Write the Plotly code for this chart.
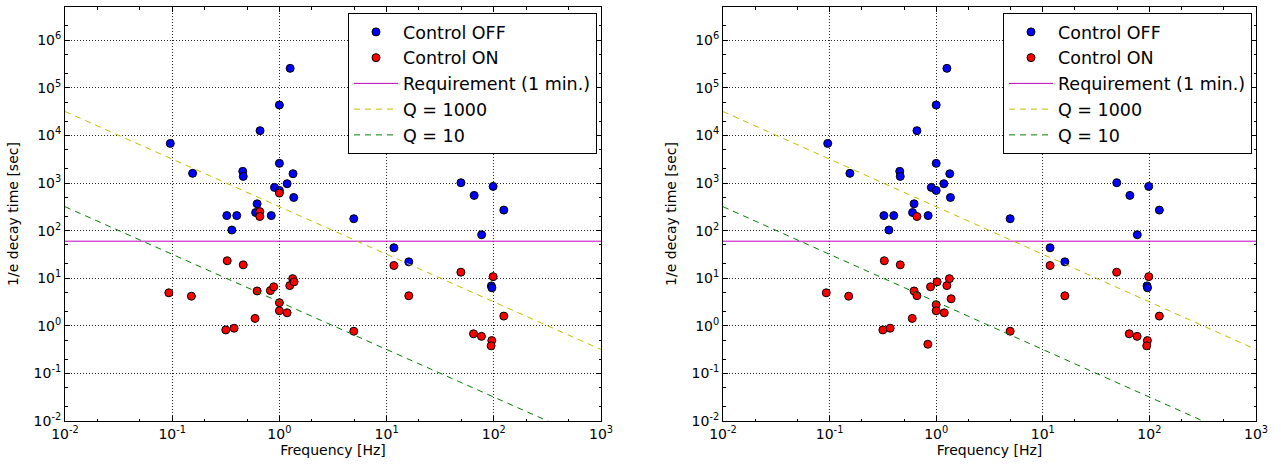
import plotly.graph_objects as go

# ---------------- data ----------------
freq_off = [0.096, 0.155, 0.323, 0.40, 0.36, 0.455, 0.46, 0.62, 0.60, 0.66,
            0.84, 0.90, 1.0, 1.0, 1.0, 1.26, 1.18, 1.34, 1.36, 4.94,
            11.7, 16.1, 49.4, 65.6, 98.5, 124, 77, 95, 96]
tau_off = [6800, 1600, 207, 207, 103, 1760, 1380, 366, 240, 12600,
           207, 810, 700, 2590, 43600, 257000, 968, 1570, 497, 178,
           43.6, 22.1, 1015, 550, 850, 270, 82, 6.9, 6.3]

# Control ON, left panel
freq_on_a = [0.093, 0.151, 0.326, 0.46, 0.316, 0.378, 0.593, 0.62, 0.656, 0.656,
             0.824, 0.885, 1.0, 1.0, 1.0, 1.18, 1.25, 1.33, 1.37, 4.94,
             11.7, 16.1, 49.3, 98.6, 124, 64.7, 76.7, 95.8, 94.4]
tau_on_a = [4.94, 4.2, 23.3, 19.1, 0.82, 0.89, 1.43, 5.4, 251, 198,
            5.5, 6.6, 615, 3.06, 2.07, 1.88, 7.0, 9.8, 8.4, 0.77,
            18.5, 4.27, 13.4, 10.8, 1.6, 0.68, 0.6, 0.49, 0.38]

# Control ON, right panel
freq_on_b = [0.093, 0.151, 0.326, 0.46, 0.316, 0.37, 0.596, 0.62, 0.66, 0.66,
             0.835, 0.885, 1.02, 1.0, 1.0, 1.19, 1.26, 1.33, 1.38, 4.94,
             11.7, 16.1, 49.3, 98.6, 124, 64.7, 76.7, 95.8, 94.4]
tau_on_b = [4.94, 4.2, 23.3, 19.1, 0.82, 0.89, 1.43, 5.4, 4.3, 198,
            0.41, 6.6, 8.4, 2.78, 2.07, 1.88, 7.0, 9.8, 3.7, 0.77,
            18.5, 4.27, 13.4, 10.8, 1.6, 0.68, 0.6, 0.49, 0.38]

# reference lines (end points)
line_freq = [0.01, 1000]
req_tau = [60, 60]
q1000_tau = [31831, 0.3183]
q10_tau = [318.31, 0.003183]

x_ticks = [0.01, 0.1, 1, 10, 100, 1000]
x_ticktext = ["10<sup>-2</sup>", "10<sup>-1</sup>", "10<sup>0</sup>",
              "10<sup>1</sup>", "10<sup>2</sup>", "10<sup>3</sup>"]
y_ticks = [0.01, 0.1, 1, 10, 100, 1e3, 1e4, 1e5, 1e6]
y_ticktext = ["10<sup>-2</sup>", "10<sup>-1</sup>", "10<sup>0</sup>",
              "10<sup>1</sup>", "10<sup>2</sup>", "10<sup>3</sup>",
              "10<sup>4</sup>", "10<sup>5</sup>", "10<sup>6</sup>"]

FONT = "DejaVu Sans"
W, H = 1281, 464

fig = go.Figure()

panels = [
    dict(xa="x", ya="y", leg="legend", fon=freq_on_a, ton=tau_on_a),
    dict(xa="x2", ya="y2", leg="legend2", fon=freq_on_b, ton=tau_on_b),
]

for p in panels:
    common = dict(xaxis=p["xa"], yaxis=p["ya"], legend=p["leg"])
    fig.add_trace(go.Scatter(x=freq_off, y=tau_off, mode="markers", name="Control OFF",
                             marker=dict(color="#0000ff", size=8,
                                         line=dict(color="black", width=1)), **common))
    fig.add_trace(go.Scatter(x=p["fon"], y=p["ton"], mode="markers", name="Control ON",
                             marker=dict(color="#ff0000", size=8,
                                         line=dict(color="black", width=1)), **common))
    fig.add_trace(go.Scatter(x=line_freq, y=req_tau, mode="lines", name="Requirement (1 min.)",
                             line=dict(color="#bf00bf", width=1), **common))
    fig.add_trace(go.Scatter(x=line_freq, y=q1000_tau, mode="lines", name="Q = 1000",
                             line=dict(color="#bfbf00", width=1, dash="6px,5px"), **common))
    fig.add_trace(go.Scatter(x=line_freq, y=q10_tau, mode="lines", name="Q = 10",
                             line=dict(color="#008000", width=1, dash="6px,5px"), **common))

# plot-area geometry in pixels
left_px = [(65, 601), (723, 1256)]
top_px, bot_px = 7, 421
ydom = [(H - bot_px) / H, (H - top_px) / H]

axis_common = dict(
    type="log", showline=True, linecolor="black", linewidth=1, mirror="allticks",
    ticks="inside", ticklen=5, tickwidth=1, tickcolor="black",
    showgrid=True, gridcolor="rgba(0,0,0,0.85)", gridwidth=1, griddash="1px,2px",
    zeroline=False, automargin=False,
    tickfont=dict(family=FONT, size=14, color="black"),
    minor=dict(ticks="inside", ticklen=2.5, tickcolor="black", showgrid=False),
)

for i, (l, r) in enumerate(left_px):
    sx = "" if i == 0 else str(i + 1)
    fig.layout["xaxis" + sx] = dict(
        axis_common, domain=[l / W, r / W], range=[-2, 3], anchor="y" + sx,
        tickmode="array", tickvals=x_ticks, ticktext=x_ticktext,
        title=dict(text="Frequency [Hz]", font=dict(family=FONT, size=14, color="black"), standoff=4),
    )
    fig.layout["yaxis" + sx] = dict(
        axis_common, domain=ydom, range=[-2, 6.699], anchor="x" + sx,
        tickmode="array", tickvals=y_ticks, ticktext=y_ticktext,
        title=dict(text="1/e decay time [sec]", font=dict(family=FONT, size=14, color="black"), standoff=11),
    )
    legname = "legend" + sx
    fig.layout[legname] = dict(
        x=(r - 4) / W, y=(H - 13) / H, xanchor="right", yanchor="top",
        xref="paper", yref="paper",
        bgcolor="white", bordercolor="black", borderwidth=1,
        font=dict(family=FONT, size=17.5, color="black"),
        tracegroupgap=0, itemwidth=44,
    )

fig.update_layout(
    width=W, height=H, autosize=False,
    margin=dict(l=0, r=0, t=0, b=0, autoexpand=False),
    paper_bgcolor="white", plot_bgcolor="white",
    font=dict(family=FONT, color="black"),
)

fig.write_html("out.html", config={"displayModeBar": False},
               post_script="document.body.style.margin='0px';")
